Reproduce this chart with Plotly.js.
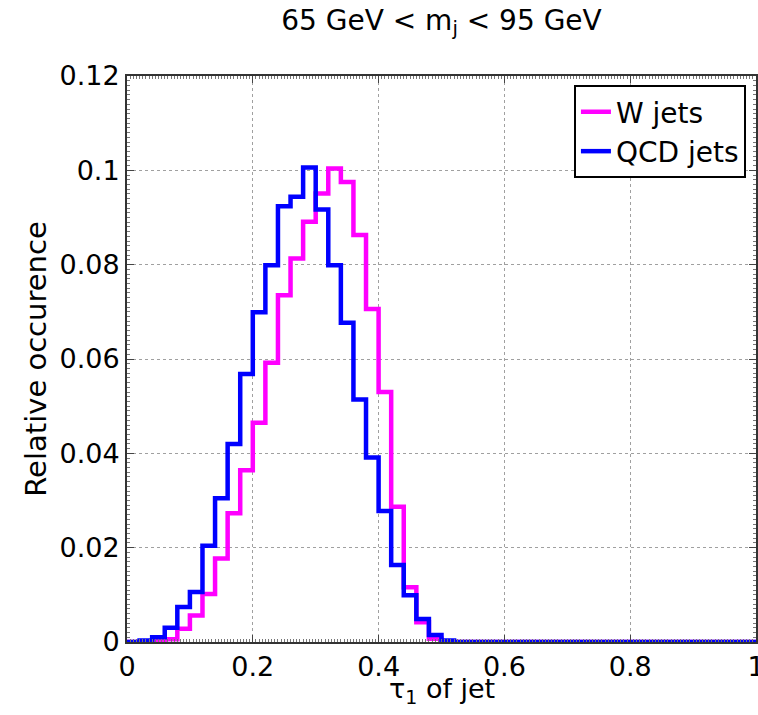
<!DOCTYPE html>
<html>
<head>
<meta charset="utf-8">
<script src="https://cdn.plot.ly/plotly-3.0.1.min.js"></script>
<style>html,body{margin:0;padding:0;background:#fff}#chart{width:758px;height:715px}</style>
</head>
<body>
<div id="chart"></div>
<script>
// Bin edges (0.02 wide bins, 0..1)
const binEdges = [0.00,0.02,0.04,0.06,0.08,0.10,0.12,0.14,0.16,0.18,
                  0.20,0.22,0.24,0.26,0.28,0.30,0.32,0.34,0.36,0.38,
                  0.40,0.42,0.44,0.46,0.48,0.50,0.52,0.54,0.56,0.58,
                  0.60,0.62,0.64,0.66,0.68,0.70,0.72,0.74,0.76,0.78,
                  0.80,0.82,0.84,0.86,0.88,0.90,0.92,0.94,0.96,0.98,1.00];
// Relative occurrence per bin
const wJets = [0,0,0.0002,0.0006,0.0028,0.0056,0.0102,0.0177,0.0273,0.0364,
               0.0465,0.0592,0.0735,0.0813,0.0891,0.0951,0.1004,0.0975,0.0863,0.0706,
               0.0530,0.0287,0.0116,0.0042,0.0007,0,0,0,0,0,
               0,0,0,0,0,0,0,0,0,0,
               0,0,0,0,0,0,0,0,0,0];
const qcdJets = [0,0.0003,0.0010,0.0030,0.0074,0.0106,0.0204,0.0305,0.0420,0.0568,
                 0.0699,0.0799,0.0924,0.0944,0.1006,0.0917,0.0799,0.0677,0.0514,0.0391,
                 0.0278,0.0163,0.0099,0.0049,0.0015,0.0003,0,0,0,0,
                 0,0,0,0,0,0,0,0,0,0,
                 0,0,0,0,0,0,0,0,0,0];
const seriesNames = ['W jets','QCD jets'];
const seriesColors = ['#ff00ff','#0000ff'];

function stairs(vals){ return vals.concat([vals[vals.length-1]]); }

const traces = [wJets, qcdJets].map((v,i)=>({
  x: binEdges, y: stairs(v), type:'scatter', mode:'lines',
  line:{shape:'hv', color:seriesColors[i], width:4.5},
  name: seriesNames[i]
}));

const FAM = 'DejaVu Sans, Verdana, sans-serif';
function f(size){ return {family:FAM, size:size, color:'#000'}; }

const axisCommon = {
  showline:true, linecolor:'#333', linewidth:2, mirror:'allticks',
  ticks:'inside', ticklen:7, tickcolor:'#444', tickwidth:1,
  showgrid:true, gridcolor:'#a0a0a0', griddash:'dot', gridwidth:1,
  zeroline:false, tickfont:f(27), ticklabeloverflow:'allow', tickformat:'~g'
};

const layout = {
  width:758, height:715,
  margin:{l:127, r:2, t:76, b:73},
  paper_bgcolor:'#fff', plot_bgcolor:'#fff',
  font: f(26),
  title:{text:'65 GeV &lt; m<sub>j</sub> &lt; 95 GeV', x:0.5, xref:'paper', xanchor:'center',
         y:0.986, yanchor:'top', font:f(28)},
  xaxis:Object.assign({}, axisCommon, {range:[0,1], dtick:0.2, tick0:0,
    minor:{dtick:0.005, ticks:'inside', ticklen:3, tickcolor:'#777', showgrid:false}}),
  yaxis:Object.assign({}, axisCommon, {range:[0,0.12], dtick:0.02, tick0:0,
    minor:{dtick:0.001, ticks:'inside', ticklen:3, tickcolor:'#777', showgrid:false},
    title:{text:'Relative occurence', standoff:4, font:f(29)}}),
  annotations:[{text:'τ<sub>1</sub> of jet', xref:'paper', yref:'paper',
    x:0.5, y:-0.086, xanchor:'center', yanchor:'middle', showarrow:false, font:f(27)}],
  legend:{x:0.984, xanchor:'right', y:0.984, yanchor:'top',
    bgcolor:'#fff', bordercolor:'#000', borderwidth:2,
    font:f(28), tracegroupgap:0, itemwidth:30},
  showlegend:true
};
Plotly.newPlot('chart', traces, layout, {displayModeBar:false, staticPlot:true});
</script>
</body>
</html>
